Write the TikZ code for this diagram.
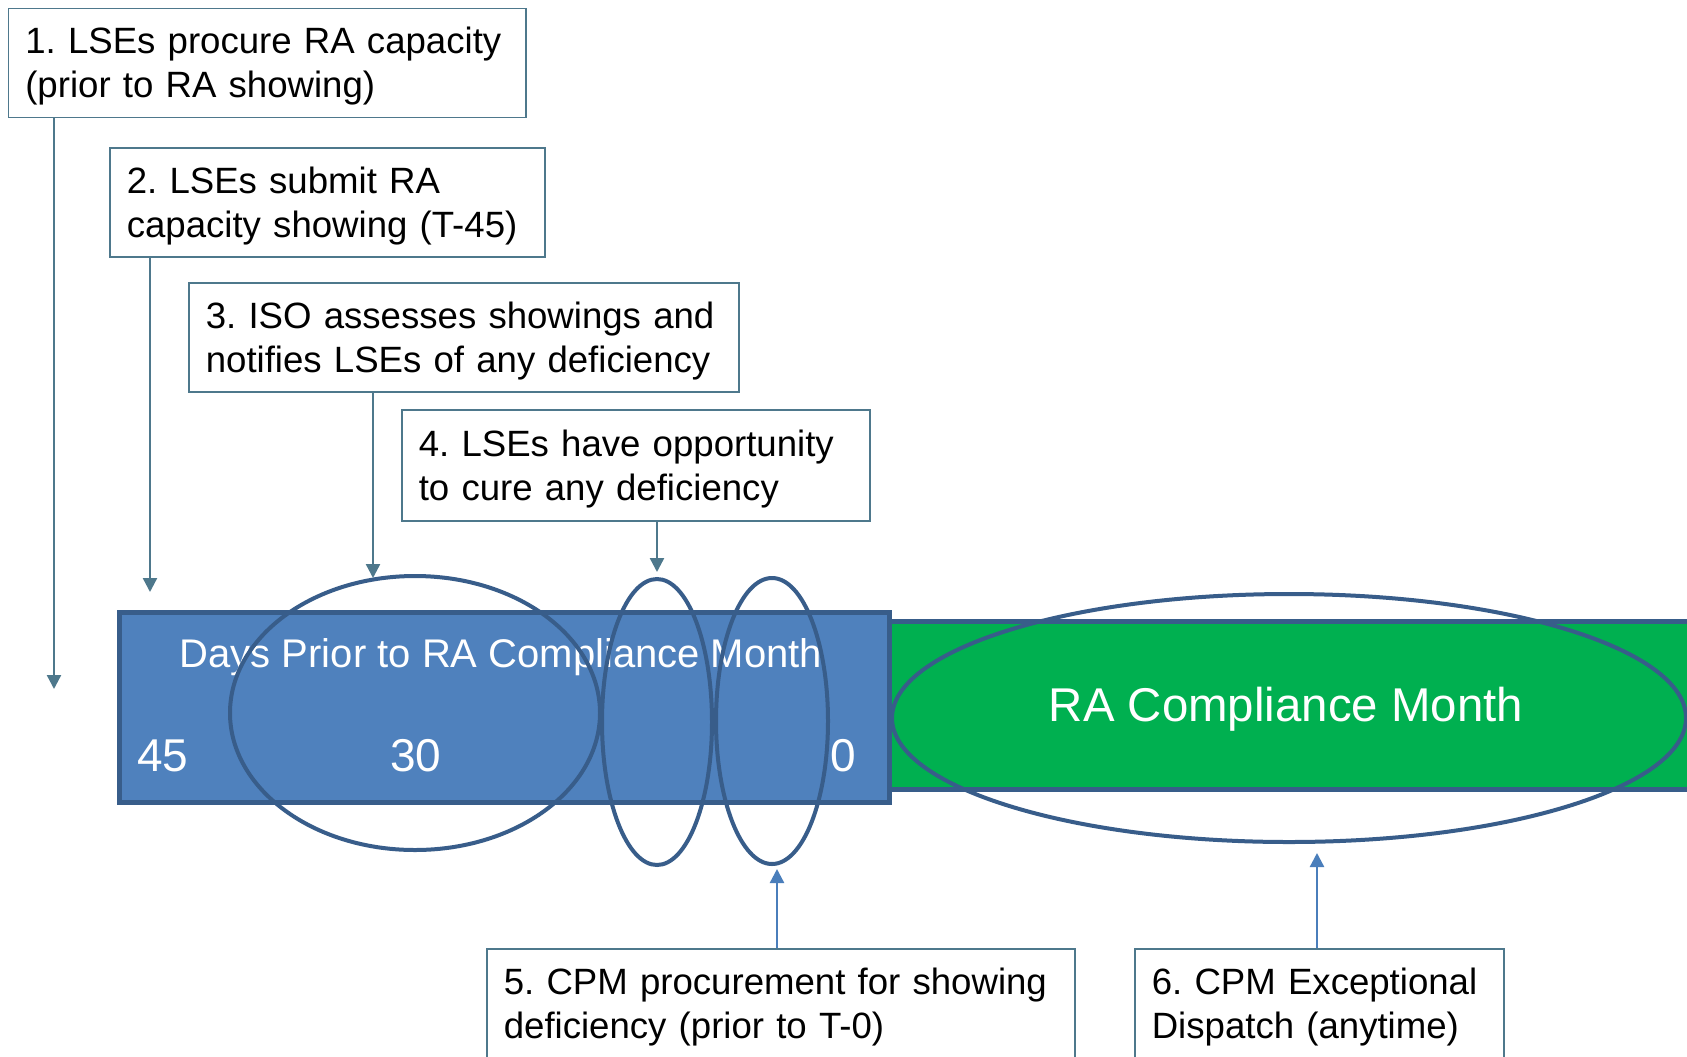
\documentclass[tikz,border=0pt]{standalone}
\usepackage{fontspec}
\setmainfont{Liberation Sans}
\usepackage{xcolor}
\usetikzlibrary{arrows.meta,shapes.geometric}

\definecolor{dayblue}{RGB}{79,129,189}
\definecolor{edgeblue}{RGB}{56,93,138}
\definecolor{monthgreen}{RGB}{0,176,80}
\definecolor{slate}{RGB}{78,120,140}
\definecolor{tipblue}{RGB}{74,126,187}

\frenchspacing

\begin{document}
\begin{tikzpicture}[
  x=0.5pt,y=-0.5pt,
  box/.style={draw=slate,line width=0.8pt,anchor=north west,align=left,
              font=\fontsize{18.3}{22}\selectfont,inner xsep=8.5pt,
              text height=16.6pt,minimum height=54.5pt,fill=white},
  band/.style={draw=edgeblue,line width=2.5pt,anchor=north west},
  ring/.style={draw=edgeblue,ellipse,line width=2pt,inner sep=0pt},
  lbl/.style={text=white,inner sep=0pt},
  arr/.style={-{Triangle[length=7pt,width=7pt]},line width=1.2pt,color=slate},
  uparr/.style={arr,color=tipblue}
]
\useasboundingbox (0,0) rectangle (1687,1056);
\clip (0,0) rectangle (1687,1056);
\fill[white] (0,0) rectangle (1687,1056);

% the six steps
\node[box,text width=241.75pt] (lse) at (7.5,7.5)
  {1. LSEs procure RA capacity\\(prior to RA showing)};
\node[box,text width=200.5pt] (show) at (109,147)
  {2. LSEs submit RA\\capacity showing (T-45)};
\node[box,text width=258pt] (iso) at (188,282)
  {3. ISO assesses showings and\\notifies LSEs of any deficiency};
\node[box,text width=217pt,minimum height=55.5pt] (cure) at (401,409)
  {4. LSEs have opportunity\\to cure any deficiency};
\node[box,text width=277pt] (cpm) at (486,948)
  {5. CPM procurement for showing\\deficiency (prior to T-0)};
\node[box,text width=167.5pt] (ed) at (1134,948)
  {6. CPM Exceptional\\Dispatch (anytime)};

% time line
\node[band,fill=monthgreen,minimum width=406.5pt,minimum height=84pt] (month) at (887,619) {};
\node[band,fill=dayblue,minimum width=385pt,minimum height=95pt] (days) at (117,610) {};
\node[lbl,font=\fontsize{20}{24}\selectfont] (dayslbl) at (501,657) {Days Prior to RA Compliance Month};
\node[lbl,font=\fontsize{23}{27}\selectfont] (n45) at (163,756) {45};
\node[lbl,font=\fontsize{23}{27}\selectfont] (n30) at (416,756) {30};
\node[lbl,font=\fontsize{23}{27}\selectfont] (n0) at (843,756) {0};
\node[lbl,font=\fontsize{23.7}{28}\selectfont] (monthlbl) at (1286,709) {RA Compliance Month};

% windows
\node[ring,minimum width=185pt,minimum height=137pt] (w30) at (415,713) {};
\node[ring,minimum width=55pt,minimum height=143pt] (wcure) at (657,722) {};
\node[ring,minimum width=56pt,minimum height=143pt] (wcpm) at (772,721) {};
\node[ring,minimum width=397pt,minimum height=124pt] (wmonth) at (1289,718) {};

% arrow tips
\coordinate (t1) at (54,689);
\coordinate (t2) at (150,592);
\coordinate (t3) at (373,578);
\coordinate (t4) at (657,572);
\coordinate (t5) at (777,869);
\coordinate (t6) at (1317,853);

\draw[arr] (lse.south -| t1) -- (t1);
\draw[arr] (show.south -| t2) -- (t2);
\draw[arr] (iso.south -| t3) -- (t3);
\draw[arr] (cure.south -| t4) -- (t4);
\draw[uparr] (cpm.north -| t5) -- (t5);
\draw[uparr] (ed.north -| t6) -- (t6);
\end{tikzpicture}
\end{document}
